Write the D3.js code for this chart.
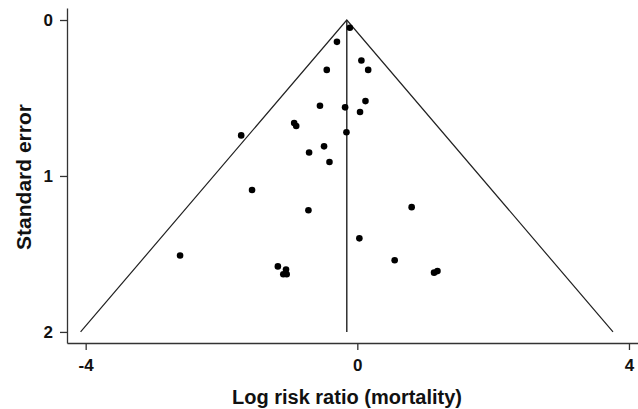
<!doctype html>
<html lang="en">
<head>
    <meta charset="utf-8">
    <title>Funnel plot - log risk ratio (mortality)</title>
    <script src="https://d3js.org/d3.v7.min.js" charset="utf-8"></script>
    <style>
        body { margin: 0; background: #fff; }
        svg text { font-family: "Liberation Sans", Arial, sans-serif; font-weight: bold; fill: #111; }
    </style>
</head>
<body>
    <svg id="svg1"></svg>
<script>
    // study estimates
    const logRR = [-0.11, -0.30, 0.06, -0.45, 0.16, -0.55, -0.18, 0.12, 0.04, -0.93,
                   -0.90, -1.71, -0.16, -0.49, -0.71, -0.41, -1.55, -0.72, 0.80, 0.03,
                   -2.61, -1.17, -1.05, -1.09, -1.04, 0.55, 1.13, 1.18];
    const stdErr = [0.05, 0.14, 0.26, 0.32, 0.32, 0.55, 0.56, 0.52, 0.59, 0.66,
                    0.68, 0.74, 0.72, 0.81, 0.85, 0.91, 1.09, 1.22, 1.20, 1.40,
                    1.51, 1.58, 1.60, 1.63, 1.63, 1.54, 1.62, 1.61];
    const pooled = -0.155;
    const seMax = 2;
    const xTicks = [-4, 0, 4];
    const yTicks = [0, 1, 2];

    const width = 638, height = 409;
    const svg = d3.select('#svg1').attr('width', width).attr('height', height);

    const x = d3.scaleLinear().domain([-4.275, 4.133]).range([67, 638]);
    const y = d3.scaleLinear().domain([-0.077, 2.071]).range([8, 343]);

    // axes (plain hyphen for the minus sign, like the original)
    const fmt = d => String(d);
    const xAxis = svg.append('g')
        .attr('transform', 'translate(0,343)')
        .call(d3.axisBottom(x).tickValues(xTicks).tickFormat(fmt).tickSize(7).tickSizeOuter(0).tickPadding(9));
    const yAxis = svg.append('g')
        .attr('transform', 'translate(67,0)')
        .call(d3.axisLeft(y).tickValues(yTicks).tickFormat(fmt).tickSize(7).tickSizeOuter(0).tickPadding(7));
    [xAxis, yAxis].forEach(g => {
        g.selectAll('path, line').attr('stroke', '#333').attr('stroke-width', 1.3);
        g.selectAll('text').style('font-size', '17px');
    });

    // funnel (pseudo 95% limits) and pooled estimate
    const funnel = [[pooled - 1.96 * seMax, seMax], [pooled, 0], [pooled + 1.96 * seMax, seMax]];
    svg.append('path')
        .attr('d', d3.line().x(d => x(d[0])).y(d => y(d[1]))(funnel))
        .attr('fill', 'none').attr('stroke', '#222').attr('stroke-width', 1.2);
    svg.append('line')
        .attr('x1', x(pooled)).attr('x2', x(pooled))
        .attr('y1', y(0)).attr('y2', y(seMax))
        .attr('stroke', '#222').attr('stroke-width', 1.4);

    // studies
    svg.selectAll('circle')
        .data(d3.range(logRR.length))
        .enter().append('circle')
        .attr('cx', i => x(logRR[i]))
        .attr('cy', i => y(stdErr[i]))
        .attr('r', 3.3)
        .attr('fill', '#000');

    // axis titles
    svg.append('text')
        .attr('x', 347).attr('y', 404)
        .attr('text-anchor', 'middle')
        .style('font-size', '20px')
        .text('Log risk ratio (mortality)');
    svg.append('text')
        .attr('transform', 'translate(31,177) rotate(-90)')
        .attr('text-anchor', 'middle')
        .style('font-size', '21px')
        .text('Standard error');
</script>
</body>
</html>
